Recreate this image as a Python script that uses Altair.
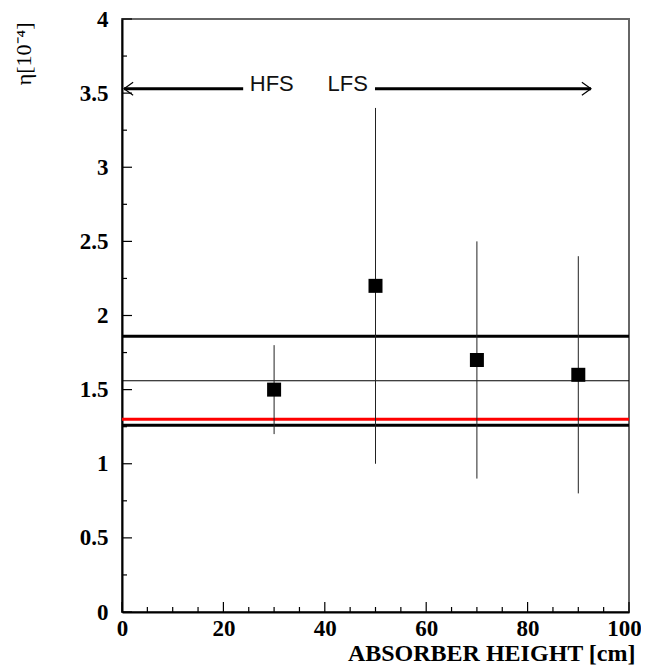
import altair as alt
import pandas as pd

# ---- data ----
x_pos = [30, 50, 70, 90]
eta = [1.5, 2.2, 1.7, 1.6]
eta_low = [1.2, 1.0, 0.9, 0.8]
eta_high = [1.8, 3.4, 2.5, 2.4]

upper_limit = [1.86]
mean_line = [1.56]
red_line = [1.30]
lower_limit = [1.26]

arrow_y = [3.53]
hfs_arrow = [0.4, 23.9]
lfs_arrow = [49.9, 92.5]
region_labels = ["HFS", "LFS"]
region_label_x = [25.2, 48.5]

x_major = [0, 20, 40, 60, 80, 100]
x_minor = [v for v in range(5, 100, 5) if v % 20 != 0]
y_major = [0, 0.5, 1, 1.5, 2, 2.5, 3, 3.5, 4]
y_minor = [0.25, 0.75, 1.25, 1.75, 2.25, 2.75, 3.25, 3.75]

W, H = 507, 593
SERIF = "Liberation Serif"
SANS = "Liberation Sans"

xs = alt.Scale(domain=[0, 100], nice=False, zero=False)
ys = alt.Scale(domain=[0, 4], nice=False, zero=False)

x_axis = alt.Axis(
    values=x_major, format="d", ticks=False, grid=False,
    domainColor="black", domainWidth=2,
    labelFont=SERIF, labelFontWeight="bold", labelFontSize=23, labelColor="black",
    labelPadding=5, labelFlush=False, labelOverlap=False,
    labelOffset={"expr": "datum.value == 100 ? -5 : 0"},
    title="ABSORBER HEIGHT [cm]", titleFont=SERIF, titleFontWeight="bold",
    titleFontSize=24, titleColor="black", titleX=513, titleY=48,
    titleAlign="right", titleBaseline="alphabetic",
)
y_axis = alt.Axis(
    values=y_major, format="~g", ticks=False, grid=False,
    domainColor="black", domainWidth=2,
    labelFont=SERIF, labelFontWeight="bold", labelFontSize=23, labelColor="black",
    labelPadding=14, labelFlush=False, labelOverlap=False,
    title="η[10⁻⁴]", titleFont=SERIF, titleFontWeight="normal",
    titleFontSize=22, titleColor="black", titleAngle=270,
    titleAlign="right", titleBaseline="middle", titleX=-99, titleY=3,
)

pts = pd.DataFrame({"x": x_pos, "eta": eta, "lo": eta_low, "hi": eta_high})

points = alt.Chart(pts).mark_square(size=196, color="black", opacity=1).encode(
    x=alt.X("x:Q", scale=xs, axis=x_axis),
    y=alt.Y("eta:Q", scale=ys, axis=y_axis),
)
errbars = alt.Chart(pts).mark_rule(color="#222", strokeWidth=1).encode(
    x=alt.X("x:Q", scale=xs),
    y=alt.Y("lo:Q", scale=ys),
    y2="hi:Q",
)


def hline(vals, color, width):
    return alt.Chart(pd.DataFrame({"v": vals})).mark_rule(
        color=color, strokeWidth=width
    ).encode(y=alt.Y("v:Q", scale=ys))


lines = [
    hline(upper_limit, "black", 3),
    hline(mean_line, "black", 1.2),
    hline(red_line, "#ff0000", 3),
    hline(lower_limit, "black", 3),
]

arrows_df = pd.DataFrame({
    "x": [hfs_arrow[0], lfs_arrow[0]],
    "x2": [hfs_arrow[1], lfs_arrow[1]],
    "y": [arrow_y[0], arrow_y[0]],
})
arrow_lines = alt.Chart(arrows_df).mark_rule(color="black", strokeWidth=3).encode(
    x=alt.X("x:Q", scale=xs), x2="x2:Q", y=alt.Y("y:Q", scale=ys)
)
left_head = alt.Chart(pd.DataFrame({"x": [hfs_arrow[0]], "y": arrow_y})).mark_point(
    shape="M1.4,-1L0,0L1.4,1", size=169, filled=False, color="black",
    strokeWidth=1.2, opacity=1,
).encode(x=alt.X("x:Q", scale=xs), y=alt.Y("y:Q", scale=ys))
right_head = alt.Chart(pd.DataFrame({"x": [lfs_arrow[1]], "y": arrow_y})).mark_point(
    shape="M-1.4,-1L0,0L-1.4,1", size=169, filled=False, color="black",
    strokeWidth=1.2, opacity=1,
).encode(x=alt.X("x:Q", scale=xs), y=alt.Y("y:Q", scale=ys))

hfs = alt.Chart(pd.DataFrame({"x": [region_label_x[0]], "y": arrow_y, "t": [region_labels[0]]})).mark_text(
    font=SANS, fontSize=22, align="left", baseline="alphabetic", dy=2, color="#111"
).encode(x=alt.X("x:Q", scale=xs), y=alt.Y("y:Q", scale=ys), text="t:N")
lfs = alt.Chart(pd.DataFrame({"x": [region_label_x[1]], "y": arrow_y, "t": [region_labels[1]]})).mark_text(
    font=SANS, fontSize=22, align="right", baseline="alphabetic", dy=2, color="#111"
).encode(x=alt.X("x:Q", scale=xs), y=alt.Y("y:Q", scale=ys), text="t:N")


# inward ticks
def xticks(vals, length):
    return alt.Chart(pd.DataFrame({"t": vals})).mark_rule(color="black", strokeWidth=1.2).encode(
        x=alt.X("t:Q", scale=xs), y=alt.value(H), y2=alt.value(H - length)
    )


def yticks(vals, length):
    return alt.Chart(pd.DataFrame({"t": vals})).mark_rule(color="black", strokeWidth=1.2).encode(
        y=alt.Y("t:Q", scale=ys), x=alt.value(0), x2=alt.value(length)
    )


ticks = [xticks(x_major, 10), xticks(x_minor, 5), yticks(y_major, 10), yticks(y_minor, 5)]

chart = alt.layer(
    *lines, errbars, points, arrow_lines, left_head, right_head, hfs, lfs, *ticks
).properties(
    width=W, height=H,
    padding={"left": 114, "top": 11, "right": 12, "bottom": 58},
    autosize="none",
).configure_view(stroke="#666", strokeWidth=2)

chart.save("out.html", embed_options={"renderer": "svg", "actions": False})
